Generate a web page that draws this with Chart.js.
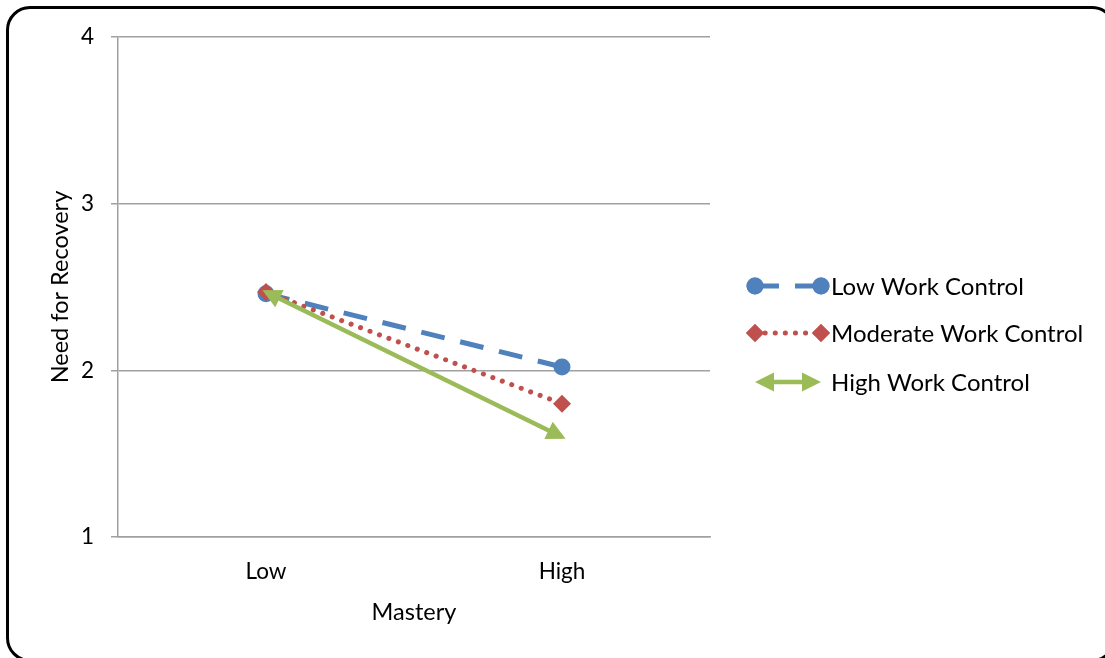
<!DOCTYPE html>
<html lang="en">
<head>
    <meta charset="UTF-8">
    <title>Need for Recovery</title>
    <script src="https://cdn.jsdelivr.net/npm/chart.js@4.4.1/dist/chart.umd.min.js"></script>
    <style>
        html, body { margin: 0; padding: 0; background: #fff; }
        #wrap { position: relative; width: 1105px; height: 658px; overflow: hidden; }
        #frame {
            position: absolute; left: 6px; top: 6px; width: 1110px; height: 656px;
            box-sizing: border-box; border: 3px solid #000; border-radius: 24px;
        }
        canvas { position: absolute; left: 0; top: 0; }
    </style>
</head>
<body>
    <div id="wrap">
        <div id="frame"></div>
        <canvas id="recoveryChart" width="1105" height="658"></canvas>
    </div>

    <script>
        const categories = ['Low', 'High'];
        const lowControl = [2.46, 2.02];
        const moderateControl = [2.47, 1.80];
        const highControl = [2.47, 1.60];
        const seriesNames = ['Low Work Control', 'Moderate Work Control', 'High Work Control'];

        const FONT = 'Lato';
        const GRID = '#a0a0a0';

        function arrowHead(ctx, x, y, angle, color) {
            const len = 19, half = 9.5, push = 4;
            const tx = x + Math.cos(angle) * push;
            const ty = y + Math.sin(angle) * push;
            ctx.save();
            ctx.fillStyle = color;
            ctx.translate(tx, ty);
            ctx.rotate(angle);
            ctx.beginPath();
            ctx.moveTo(0, 0);
            ctx.lineTo(-len, -half);
            ctx.lineTo(-len, half);
            ctx.closePath();
            ctx.fill();
            ctx.restore();
        }

        // arrow heads on both ends of the green series
        const arrowPlugin = {
            id: 'arrows',
            afterDatasetsDraw(chart) {
                const ctx = chart.ctx;
                chart.data.datasets.forEach((ds, i) => {
                    if (!ds.arrows) return;
                    const pts = chart.getDatasetMeta(i).data;
                    const a = pts[0], b = pts[pts.length - 1];
                    const ang = Math.atan2(b.y - a.y, b.x - a.x);
                    arrowHead(ctx, b.x, b.y, ang, ds.borderColor);
                    arrowHead(ctx, a.x, a.y, ang + Math.PI, ds.borderColor);
                });
            }
        };

        // legend drawn like the office one: line sample + markers + label
        const sideLegend = {
            id: 'sideLegend',
            afterDraw(chart) {
                const ctx = chart.ctx;
                const x1 = 755, x2 = 821, tx = 831;
                const rows = [286, 333, 382];
                chart.data.datasets.forEach((ds, i) => {
                    const y = rows[i];
                    ctx.save();
                    ctx.strokeStyle = ds.borderColor;
                    ctx.lineWidth = ds.borderWidth;
                    ctx.lineCap = ds.borderCapStyle || 'butt';
                    ctx.setLineDash(ds.borderDash || []);
                    ctx.beginPath();
                    if (ds.arrows) {
                        ctx.moveTo(x1 + 8, y);
                        ctx.lineTo(x2 - 8, y);
                    } else {
                        ctx.moveTo(x1, y);
                        ctx.lineTo(x2, y);
                    }
                    ctx.stroke();
                    ctx.restore();
                    if (ds.arrows) {
                        arrowHead(ctx, x2 - 4, y, 0, ds.borderColor);
                        arrowHead(ctx, x1 + 4, y, Math.PI, ds.borderColor);
                    } else {
                        const opts = {
                            pointStyle: ds.pointStyle, radius: ds.pointRadius, rotation: 0,
                            borderWidth: 0
                        };
                        ctx.save();
                        ctx.fillStyle = ds.pointBackgroundColor;
                        ctx.strokeStyle = ds.pointBackgroundColor;
                        Chart.helpers.drawPoint(ctx, opts, x1, y);
                        ctx.fill();
                        Chart.helpers.drawPoint(ctx, opts, x2, y);
                        ctx.fill();
                        ctx.restore();
                    }
                    ctx.save();
                    ctx.fillStyle = '#000';
                    ctx.font = '24px ' + FONT;
                    ctx.textBaseline = 'middle';
                    ctx.fillText(ds.label, tx, y + 1);
                    ctx.restore();
                });
            }
        };

        new Chart(document.getElementById('recoveryChart'), {
            type: 'line',
            data: {
                labels: categories,
                datasets: [{
                    label: seriesNames[0],
                    data: lowControl,
                    borderColor: '#4f81bd',
                    borderWidth: 5,
                    borderDash: [24, 16],
                    pointStyle: 'circle',
                    pointRadius: 8.5,
                    pointBackgroundColor: '#4f81bd',
                    pointBorderWidth: 0,
                    order: 3
                }, {
                    label: seriesNames[1],
                    data: moderateControl,
                    borderColor: '#c0504d',
                    borderWidth: 5,
                    borderDash: [0.1, 10],
                    borderCapStyle: 'round',
                    pointStyle: 'rectRot',
                    pointRadius: 9,
                    pointBackgroundColor: '#c0504d',
                    pointBorderWidth: 0,
                    order: 2
                }, {
                    label: seriesNames[2],
                    data: highControl,
                    borderColor: '#9bbb59',
                    borderWidth: 4.5,
                    pointRadius: 0,
                    arrows: true,
                    order: 1
                }]
            },
            options: {
                responsive: false,
                animation: false,
                layout: { padding: { left: 46, top: 37, right: 395, bottom: 31 } },
                plugins: {
                    legend: { display: false },
                    tooltip: { enabled: false }
                },
                scales: {
                    x: {
                        offset: true,
                        grid: { display: false, drawTicks: false },
                        border: { display: true, color: GRID, width: 1.5 },
                        ticks: { color: '#000', padding: 21, font: { family: FONT, size: 22.5 } },
                        title: {
                            display: true, text: 'Mastery', color: '#000',
                            font: { family: FONT, size: 23.5 }, padding: 0
                        },
                        afterFit: s => { s.height = 658 - 31 - 537; }
                    },
                    y: {
                        min: 1,
                        max: 4,
                        ticks: { stepSize: 1, color: '#000', padding: 17, font: { family: FONT, size: 22.5 } },
                        grid: { color: GRID, lineWidth: 1.5, tickLength: 7 },
                        border: { color: GRID, width: 1.5 },
                        title: {
                            display: true, text: 'Need for Recovery', color: '#000',
                            font: { family: FONT, size: 23.5 }, padding: 0
                        },
                        afterFit: s => { s.width = 72; }
                    }
                }
            },
            plugins: [arrowPlugin, sideLegend]
        });
    </script>
</body>
</html>
